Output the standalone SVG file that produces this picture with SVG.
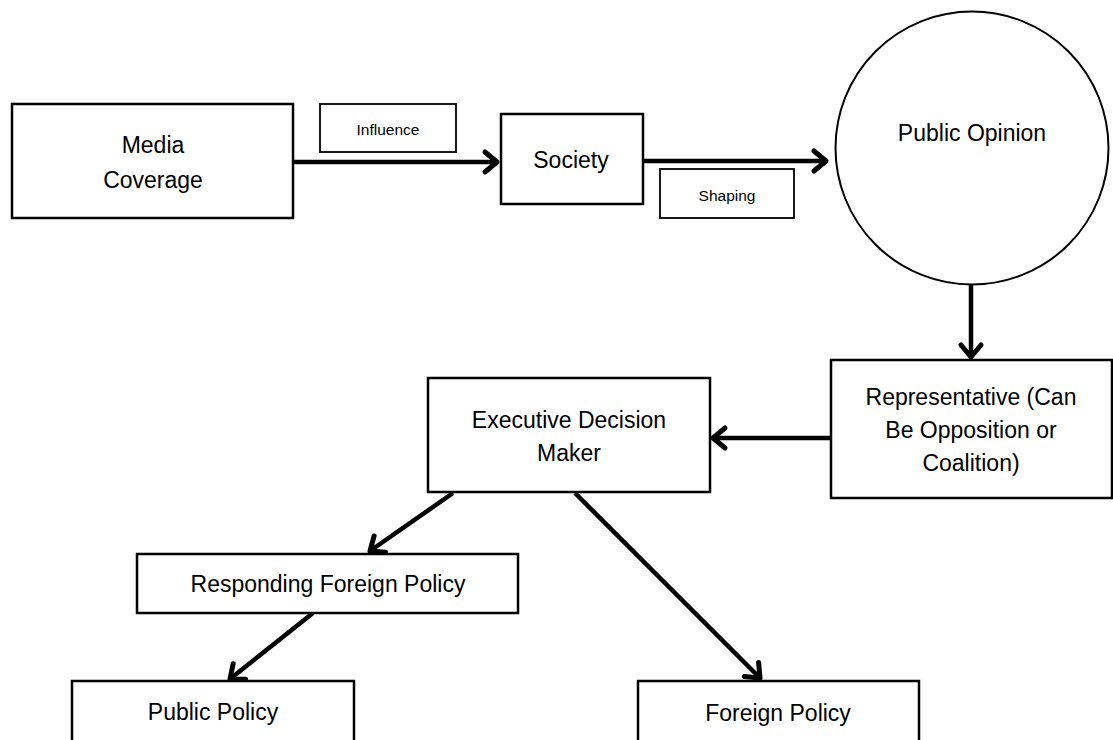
<svg xmlns="http://www.w3.org/2000/svg" width="1113" height="740" viewBox="0 0 1113 740">
<defs>
<style>
.box{fill:#fff;stroke:#000;stroke-width:2.5}
.lbl{fill:#fff;stroke:#000;stroke-width:1.8}
.t{font-family:"Liberation Sans",Arial,sans-serif;font-size:23px;fill:#000;text-anchor:middle;dominant-baseline:central}
.s{font-family:"Liberation Sans",Arial,sans-serif;font-size:15.5px;fill:#000;text-anchor:middle;dominant-baseline:central}
.c{stroke:#000;stroke-width:4.5;fill:none;marker-end:url(#ah)}
</style>
<marker id="ah" markerUnits="userSpaceOnUse" viewBox="-16 -14 20 28" refX="0" refY="0" markerWidth="20" markerHeight="28" orient="auto">
<path d="M-12,-10 L0,0 L-12,10" fill="none" stroke="#000" stroke-width="5" stroke-linecap="round" stroke-linejoin="round"/>
</marker>
</defs>
<rect width="1113" height="740" fill="#fff"/>
<g id="connectors">
<line class="c" x1="293" y1="162" x2="497" y2="162"/>
<line class="c" x1="643" y1="161" x2="826" y2="161"/>
<line class="c" x1="971" y1="284" x2="971" y2="357"/>
<line class="c" x1="831" y1="438" x2="713" y2="438"/>
<line class="c" x1="453" y1="493" x2="370" y2="551"/>
<line class="c" x1="575" y1="493" x2="760" y2="678"/>
<line class="c" x1="313" y1="613" x2="230" y2="679"/>
</g>
<g id="media-coverage">
<rect class="box" x="12" y="104" width="281" height="114"/>
<text class="t" x="153" y="145">Media</text>
<text class="t" x="153" y="180">Coverage</text>
</g>
<g id="influence">
<rect class="lbl" x="320" y="104" width="136" height="48"/>
<text class="s" x="388" y="129">Influence</text>
</g>
<g id="society">
<rect class="box" x="501" y="114" width="142" height="90"/>
<text class="t" x="571" y="160">Society</text>
</g>
<g id="shaping">
<rect class="lbl" x="660" y="169" width="134" height="49"/>
<text class="s" x="727" y="195">Shaping</text>
</g>
<g id="public-opinion">
<circle cx="972" cy="148" r="136.5" fill="#fff" stroke="#000" stroke-width="2"/>
<text class="t" x="972" y="133">Public Opinion</text>
</g>
<g id="representative">
<rect class="box" x="831" y="360" width="281" height="138"/>
<text class="t" x="971" y="397">Representative (Can</text>
<text class="t" x="971" y="430">Be Opposition or</text>
<text class="t" x="971" y="463">Coalition)</text>
</g>
<g id="executive">
<rect class="box" x="428" y="378" width="282" height="114"/>
<text class="t" x="569" y="420">Executive Decision</text>
<text class="t" x="569" y="453">Maker</text>
</g>
<g id="responding">
<rect class="box" x="137" y="554" width="381" height="59"/>
<text class="t" x="328" y="584">Responding Foreign Policy</text>
</g>
<g id="public-policy">
<rect class="box" x="72" y="681" width="282" height="80"/>
<text class="t" x="213" y="712">Public Policy</text>
</g>
<g id="foreign-policy">
<rect class="box" x="638" y="681" width="281" height="80"/>
<text class="t" x="778" y="713">Foreign Policy</text>
</g>
</svg>
